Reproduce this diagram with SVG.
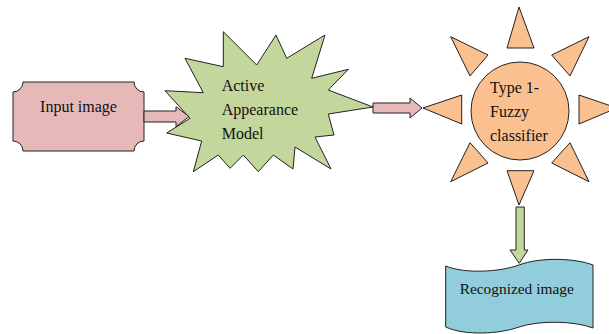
<svg xmlns="http://www.w3.org/2000/svg" width="609" height="334" viewBox="0 0 609 334">
<style>
.t{font-family:"Liberation Serif","Times New Roman",serif;font-size:16px;fill:#111}
.s{stroke:#222;stroke-width:1;stroke-linejoin:miter}
.pink{fill:#E6B9B8}
.green{fill:#C3D69B}
.orange{fill:#FAC090}
.blue{fill:#92CDDC}
</style>
<rect width="609" height="334" fill="#fff"/>
<g id="input-image">
<path class="s pink" d="M23,82 L134,82 A10,10 0 0 0 144,92 L144,141 A10,10 0 0 0 134,151 L23,151 A10,10 0 0 0 13,141 L13,92 A10,10 0 0 0 23,82 Z"/>
<text class="t" x="78.5" y="111.5" text-anchor="middle">Input image</text>
</g>
<g id="aam">
<path class="s green" d="M165,90.7 L203.3,92.7 L185,58.3 L223.3,66.7 L223.3,31.7 L256.7,65 L276,35 L286.7,58.3 L325,35 L311.7,78.3 L348.3,69.3 L328.3,90 L373,107 L328.3,114 L334,135 L315,137 L331,169 L295,147 L293,169 L273.3,155 L258.3,171.7 L243.3,155 L230,168.3 L218.3,155 L193.3,171.7 L201.7,141 L166.7,133 L190,118.3 Z"/>
<text class="t" x="221.7" y="90.7">Active</text>
<text class="t" x="221.7" y="115">Appearance</text>
<text class="t" x="221.7" y="139.3">Model</text>
</g>
<g id="fuzzy-classifier">
<g class="s orange">
<polygon points="519,7 507,48 534,48"/>
<polygon points="519,205 507,170.7 534,170.7"/>
<polygon points="423,108 461.7,95 461.7,124"/>
<polygon points="617,108 579,95 579,124"/>
<polygon points="450.7,36.7 488,55 470,76"/>
<polygon points="589,36.7 551.7,55 570,76"/>
<polygon points="450.7,181.7 470,142.7 488,163"/>
<polygon points="589,181.7 570,142.7 551.7,163"/>
<circle cx="520" cy="111" r="49"/>
</g>
<text class="t" x="490" y="93">Type 1-</text>
<text class="t" x="490" y="117">Fuzzy</text>
<text class="t" x="490" y="141">classifier</text>
</g>
<g id="recognized-image">
<path class="s blue" d="M445.7,266 C465,274 500,272 519,265 C540,257 575,258 593,265 L593,328 C575,321 540,320 519,327 C500,334 465,336 445.7,327 Z"/>
<text class="t" x="516.7" y="294.3" text-anchor="middle" style="font-size:15.4px">Recognized image</text>
</g>
<g id="connectors">
<path class="s pink" d="M144,111 L176,111 L176,106.7 L189,116.5 L176,126.7 L176,122 L144,122 Z"/>
<path class="s pink" d="M373,103 L410,103 L410,98 L422,108 L410,118 L410,113 L373,113 Z"/>
<path class="s green" d="M516,207 L524.3,207 L524.3,250 L528,250 L519.3,263.3 L510,250 L516,250 Z"/>
</g>
</svg>
